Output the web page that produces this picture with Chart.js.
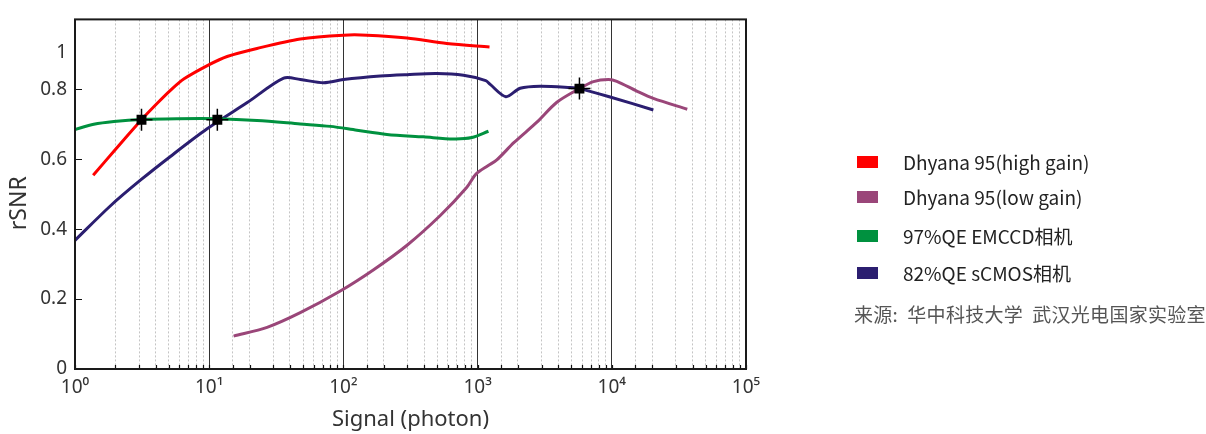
<!DOCTYPE html>
<html><head><meta charset="utf-8">
<script src="https://cdn.jsdelivr.net/npm/chart.js@4.4.0/dist/chart.umd.min.js"></script>
<style>
html,body{margin:0;padding:0;background:#fff;}
#wrap{position:relative;width:1206px;height:434px;overflow:hidden;}
#c{position:absolute;left:0;top:0;}
#legend{position:absolute;left:856px;top:0;width:350px;height:434px;font-family:"Noto Sans CJK SC";font-size:19px;color:#222;}
.item{position:absolute;left:0;white-space:nowrap;height:24px;line-height:24px;}
.box{position:absolute;left:1px;top:6px;width:21px;height:12px;}
.lab{position:absolute;left:47px;top:0;}
#src{position:absolute;left:-2px;white-space:pre;color:#555;height:24px;line-height:24px;letter-spacing:0.3px;}
</style></head>
<body>
<div id="wrap"><canvas id="c" width="1206" height="434"></canvas><div id="legend"></div></div>
<script>
// ---- data ----
const seriesNames = ['Dhyana 95(high gain)', 'Dhyana 95(low gain)', '97%QE EMCCD相机', '82%QE sCMOS相机'];
const seriesColors = ['#ff0000', '#9a4679', '#00913f', '#2b1e70'];

const highGainX = [1.366, 2.0, 3.13, 4.1, 5.14, 6.5, 9.92, 13.6, 22.7, 47.7, 100, 150, 298, 590, 1227];
const highGainY = [0.554, 0.628, 0.713, 0.760, 0.797, 0.830, 0.870, 0.894, 0.917, 0.944, 0.955, 0.955, 0.947, 0.931, 0.921];

const lowGainX = [15.2, 27, 47.7, 94.8, 168, 298, 527, 832, 976, 1200, 1390, 1870, 2767, 3897, 5740, 7300, 9440, 10900, 15350, 20400, 36500];
const lowGainY = [0.094, 0.119, 0.161, 0.223, 0.284, 0.354, 0.439, 0.520, 0.558, 0.582, 0.598, 0.648, 0.706, 0.763, 0.802, 0.822, 0.828, 0.823, 0.795, 0.774, 0.743];

const emccdX = [1.0, 1.38, 1.95, 3.13, 5.77, 11.5, 22.7, 47.7, 80, 126, 211, 395, 661, 907, 1205];
const emccdY = [0.685, 0.700, 0.708, 0.714, 0.716, 0.716, 0.711, 0.701, 0.694, 0.683, 0.671, 0.664, 0.658, 0.662, 0.680];

const scmosX = [1.0, 1.84, 3.07, 5.14, 9.65, 19.2, 35.9, 47.7, 71.2, 100, 188, 298, 497, 785, 1150, 1241, 1624, 2075, 2924, 4890, 5740, 9710, 20400];
const scmosY = [0.368, 0.467, 0.540, 0.608, 0.687, 0.762, 0.832, 0.828, 0.819, 0.828, 0.838, 0.842, 0.845, 0.840, 0.825, 0.814, 0.779, 0.803, 0.809, 0.805, 0.802, 0.778, 0.741];

const markX = [3.13, 11.5, 5740];
const markY = [0.713, 0.713, 0.802];

const xTickLabels = ['10⁰', '10¹', '10²', '10³', '10⁴', '10⁵'];
const yTickValues = [0, 0.2, 0.4, 0.6, 0.8, 0.905];
const yTickLabels = ['0', '0.2', '0.4', '0.6', '0.8', '1'];
const sourceText = '来源:  华中科技大学  武汉光电国家实验室';

// ---- build chart ----
const zip = (xs, ys) => xs.map((x, i) => ({x: x, y: ys[i]}));
const allX = [highGainX, lowGainX, emccdX, scmosX];
const allY = [highGainY, lowGainY, emccdY, scmosY];
const isMajor = v => Math.abs(Math.log10(v) - Math.round(Math.log10(v))) < 1e-9;

const lineSets = seriesNames.map((n, i) => ({
  label: n, data: zip(allX[i], allY[i]), borderColor: seriesColors[i], backgroundColor: seriesColors[i],
  borderWidth: 3, pointRadius: 0, showLine: true, fill: false, tension: 0.3, order: 2
}));
const markData = zip(markX, markY);
const markerSets = [
  {label: 'mk1', data: markData, showLine: false, pointStyle: 'cross', pointRadius: 11, borderColor: '#000', borderWidth: 1.5, backgroundColor: '#000', order: 0},
  {label: 'mk2', data: markData, showLine: false, pointStyle: 'rect', pointRadius: 7, borderColor: '#000', borderWidth: 0, backgroundColor: '#000', order: 0}
];

const framePlugin = {
  id: 'frame',
  afterDatasetsDraw(chart) {
    const {ctx, chartArea: a, scales} = chart;
    ctx.save();
    ctx.strokeStyle = '#111';
    ctx.lineWidth = 1.2;
    ctx.beginPath();
    yTickValues.slice(0, 5).forEach(v => {
      const y = Math.round(scales.y.getPixelForValue(v)) + 0.5;
      ctx.moveTo(a.left, y); ctx.lineTo(a.left + 7, y);
    });
    scales.x.ticks.forEach(t => {
      const x = Math.round(scales.x.getPixelForValue(t.value)) + 0.5;
      ctx.moveTo(x, a.bottom); ctx.lineTo(x, a.bottom - 4);
    });
    ctx.stroke();
    ctx.strokeStyle = '#1a1a1a';
    ctx.lineWidth = 2;
    ctx.strokeRect(a.left, a.top, a.right - a.left, a.bottom - a.top);
    ctx.restore();
  }
};

new Chart(document.getElementById('c'), {
  type: 'scatter',
  data: {datasets: lineSets.concat(markerSets)},
  options: {
    responsive: false, animation: false, devicePixelRatio: 1,
    layout: {padding: {left: 0, right: 460, top: 14, bottom: 0}},
    plugins: {legend: {display: false}, tooltip: {enabled: false}},
    scales: {
      x: {
        type: 'logarithmic', min: 1, max: 100000,
        afterFit: s => { s.height = 65; },
        ticks: {
          autoSkip: false, maxRotation: 0, padding: 7, color: '#333',
          font: {family: 'Noto Sans', size: 19},
          callback: v => isMajor(v) ? xTickLabels[Math.round(Math.log10(v))] : ''
        },
        grid: {
          drawTicks: false, lineWidth: 1,
          color: ctx => (ctx.tick && isMajor(ctx.tick.value)) ? '#333' : '#c4c4c4'
        },
        border: {display: false, dash: ctx => (ctx.tick && !isMajor(ctx.tick.value)) ? [2, 2] : []},
        title: {display: true, text: 'Signal (photon)', color: '#333', font: {family: 'Noto Sans', size: 22}, padding: {top: 0, bottom: 1}}
      },
      y: {
        type: 'linear', min: 0, max: 1,
        afterBuildTicks: s => { s.ticks = yTickValues.map(v => ({value: v})); },
        afterFit: s => { s.width = 75; },
        ticks: {padding: 8, color: '#333', font: {family: 'Noto Sans', size: 19},
          callback: (v, i) => yTickLabels[i]},
        grid: {display: false, drawTicks: false},
        border: {display: false},
        title: {display: true, text: 'rSNR   ', color: '#333', font: {family: 'Noto Sans', size: 23}, padding: {top: 6, bottom: 0}}
      }
    }
  },
  plugins: [framePlugin]
});

// ---- legend (HTML text) ----
const legendEl = document.getElementById('legend');
const rowCenters = [162, 197, 236, 273];
seriesNames.forEach((n, i) => {
  const d = document.createElement('div');
  d.className = 'item';
  d.style.top = (rowCenters[i] - 12) + 'px';
  d.innerHTML = '<div class="box" style="background:' + seriesColors[i] + '"></div><div class="lab"></div>';
  d.querySelector('.lab').textContent = n;
  legendEl.appendChild(d);
});
const s = document.createElement('div');
s.id = 'src'; s.style.top = (314 - 12) + 'px'; s.textContent = sourceText;
legendEl.appendChild(s);
</script>
</body></html>
